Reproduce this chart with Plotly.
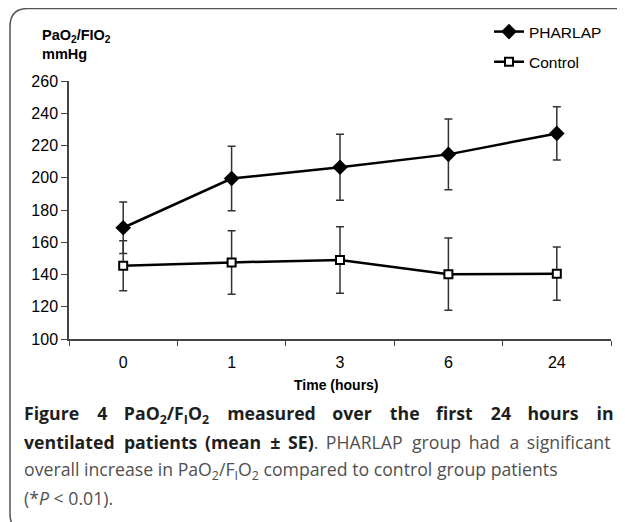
import plotly.graph_objects as go

# ---------------- data ----------------
time_labels = ["0", "1", "3", "6", "24"]
pharlap_mean = [169, 199.5, 206.5, 214.5, 227.5]
pharlap_se = [16, 20, 20.5, 22, 16.5]
control_mean = [145.5, 147.5, 149, 140.2, 140.5]
control_se = [15.5, 19.7, 20.6, 22.4, 16.5]
y_ticks = [100, 120, 140, 160, 180, 200, 220, 240, 260]

# ---------------- geometry helpers (page pixels) ----------------
OFF = 8                      # default body margin of the page
W, H = 625 - OFF, 522 - OFF  # figure size
L, R, T, B = 69, 611, 81, 339  # plot area in page pixels


def px(x):
    return (x - L) / (R - L)


def py(y):
    return (B - y) / (B - T)


CHART_FONT = "Liberation Sans, Arial, sans-serif"
CAP_FONT = "Open Sans, Noto Sans, sans-serif"

fig = go.Figure()
fig.add_trace(go.Scatter(
    x=time_labels, y=pharlap_mean, name="PHARLAP", mode="lines+markers",
    line=dict(color="#000000", width=2.5),
    marker=dict(symbol="diamond", size=12, color="#000000"),
    error_y=dict(type="data", array=pharlap_se, visible=True,
                 color="#333333", thickness=1.5, width=4),
    legendgroup="a",
))
fig.add_trace(go.Scatter(
    x=time_labels, y=control_mean, name="Control", mode="lines+markers",
    line=dict(color="#000000", width=2.5),
    marker=dict(symbol="square", size=8, color="#ffffff",
                line=dict(color="#000000", width=2)),
    error_y=dict(type="data", array=control_se, visible=True,
                 color="#333333", thickness=1.5, width=4),
    legendgroup="b",
))

# frame (rounded on the left side)
r = 18
x0, y0, y1 = 10, 8.5, 532
path = (f"M {px(W + 40)} {py(y0)} L {px(x0 + r)} {py(y0)} "
        f"Q {px(x0)} {py(y0)} {px(x0)} {py(y0 + r)} "
        f"L {px(x0)} {py(y1 - r)} Q {px(x0)} {py(y1)} {px(x0 + r)} {py(y1)}")
shapes = [dict(type="path", path=path, xref="paper", yref="paper",
               line=dict(color="#555555", width=1.5), layer="below")]


def ann(text, x, y, size, family, xanchor="left", color="#000"):
    return dict(text=text, x=px(x), y=py(y), xref="paper", yref="paper",
                xanchor=xanchor, yanchor="middle", align="left", showarrow=False,
                font=dict(family=family, size=size, color=color))


annotations = [
    ann("<b>PaO<sub>2</sub>/FIO<sub>2</sub></b>", 40, 36, 14.5, CHART_FONT),
    ann("<b>mmHg</b>", 40, 54, 14.5, CHART_FONT),
    ann("<b>Time (hours)</b>", 336, 385, 14, CHART_FONT, xanchor="center"),
]


def justify(words, gap, hair_every=2):
    out = words[0]
    for i, w in enumerate(words[1:]):
        out += gap + ("\u200a" if i % hair_every == 0 else "") + w
    return out


G1 = " \u2002\u2009"   # widened gap for justified line 1
G2 = " \u2009"         # widened gap for justified line 2
BOLD = "#1e1e1e"
REG = "#505050"
line1 = justify(["Figure", "4", "PaO<sub>2</sub>/F<sub>I</sub>O<sub>2</sub>", "measured",
                 "over", "the", "first", "24", "hours", "in"], G1)
line2a = justify(["ventilated", "patients", "(mean", "±", "SE)"], G2)
line2b = justify(["PHARLAP", "group", "had", "a", "significant"], G2)
cap_lines = [
    f"<span style='color:{BOLD}'><b>{line1}</b></span>",
    f"<span style='color:{BOLD}'><b>{line2a}</b></span>.{G2}{line2b}",
    "overall increase in PaO<sub>2</sub>/F<sub>I</sub>O<sub>2</sub> compared to control group patients",
    "(*<i>P</i> &lt; 0.01).",
]
cap_y = [414, 442, 470, 498]
for t, yy in zip(cap_lines, cap_y):
    annotations.append(ann(t, 22, yy, 17.7, CAP_FONT, color=REG))

fig.update_layout(
    width=W, height=H,
    margin=dict(l=L - OFF, r=W + OFF - R, t=T - OFF, b=H + OFF - B, pad=0,
                autoexpand=False),
    paper_bgcolor="white", plot_bgcolor="white",
    showlegend=True,
    legend=dict(x=px(489), y=py(15), xanchor="left", yanchor="top",
                font=dict(family=CHART_FONT, size=15.5, color="#000"),
                bgcolor="rgba(0,0,0,0)", tracegroupgap=7, traceorder="grouped",
                itemwidth=30),
    xaxis=dict(type="category", range=[-0.5, 4.5], showgrid=False, zeroline=False,
               showline=True, linecolor="#444444", linewidth=1.5,
               ticks="outside", tickson="boundaries", ticklen=5, tickwidth=1.2,
               tickcolor="#444444", ticklabelstandoff=8,
               tickfont=dict(family=CHART_FONT, size=16, color="#000")),
    yaxis=dict(range=[100, 260], tickvals=y_ticks, showgrid=False, zeroline=False,
               showline=True, linecolor="#444444", linewidth=1.5,
               ticks="outside", ticklen=6, tickwidth=1.2, tickcolor="#444444",
               tickfont=dict(family=CHART_FONT, size=16, color="#000")),
    shapes=shapes,
    annotations=annotations,
)

fig.write_html("out.html")
